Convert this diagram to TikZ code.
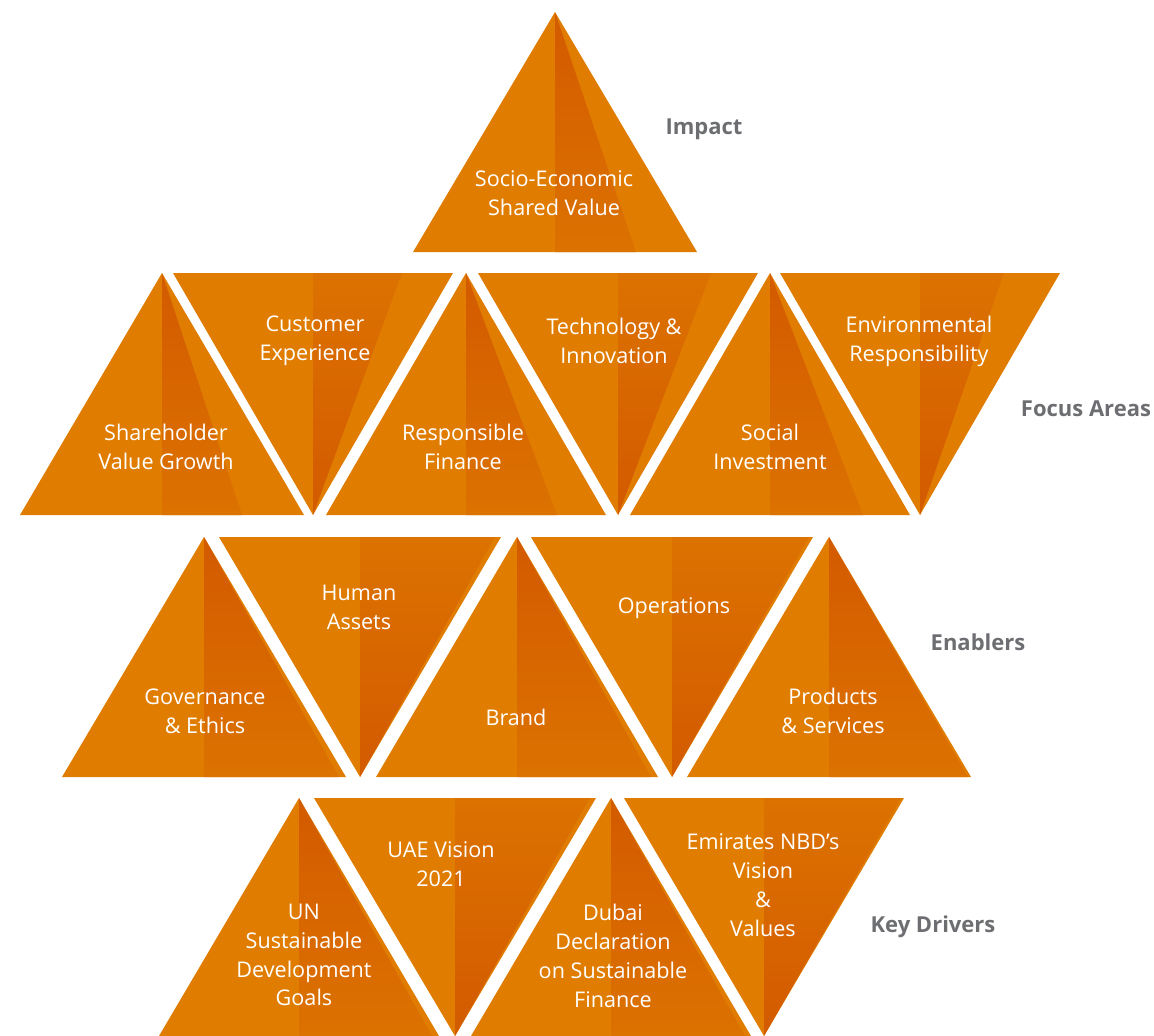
\documentclass[tikz,border=0pt]{standalone}
\usepackage{fontspec}
\setmainfont{Open Sans}
\definecolor{tribase}{HTML}{E07D00}
\definecolor{wedgedark}{HTML}{D35A00}
\definecolor{wedgelight}{HTML}{DC7200}
\definecolor{labelgray}{HTML}{6D6E71}
\newcommand\UpTri[5]{%
  \fill[tribase] (#1,#2) -- (#1-#3,#4) -- (#1+#3,#4) -- cycle;
  \shade[top color=wedgedark, bottom color=wedgelight] (#1,#2) -- (#1,#4) -- (#1+#5,#4) -- cycle;}
\newcommand\DownTri[5]{%
  \fill[tribase] (#1,#2) -- (#1-#3,#4) -- (#1+#3,#4) -- cycle;
  \shade[top color=wedgelight, bottom color=wedgedark] (#1,#2) -- (#1,#4) -- (#1+#5,#4) -- cycle;}
\tikzset{
  tritext/.style={text=white, align=center, font=\fontsize{21.6}{28.8}\selectfont, inner sep=0pt},
  rowlabel/.style={text=labelgray, font=\fontsize{22}{26}\selectfont\bfseries, inner sep=0pt}
}
\begin{document}
\begin{tikzpicture}[x=1pt,y=-1pt]
\useasboundingbox (0,0) rectangle (1154,1036);
% Impact
\UpTri{555}{12}{142}{252}{81}
% Focus areas
\UpTri{162}{273}{142}{515}{80}
\DownTri{313}{515}{140}{273}{89}
\UpTri{466}{273}{140}{515}{91}
\DownTri{618}{515}{140}{273}{93}
\UpTri{770}{273}{140}{515}{93}
\DownTri{920}{515}{140}{273}{84}
% Enablers
\UpTri{204}{537}{142}{777}{135}
\DownTri{360}{777}{141}{537}{135}
\UpTri{517}{537}{141}{777}{134}
\DownTri{672}{777}{141}{537}{137}
\UpTri{829}{537}{142}{777}{139}
% Key drivers
\UpTri{299}{798}{140}{1036}{133}
\DownTri{455}{1036}{141}{798}{135}
\UpTri{611}{798}{140}{1036}{134}
\DownTri{764}{1036}{140}{798}{137}
% texts
\node[tritext] (sev) at (554,193) {Socio-Economic\\Shared Value};
\node[tritext] (svg) at (166,447) {Shareholder\\Value Growth};
\node[tritext] (cex) at (315,341) {Customer\\Experience};
\node[tritext] (rfi) at (463,447) {Responsible\\Finance};
\node[tritext] (tin) at (614,341) {Technology \&\\Innovation};
\node[tritext] (sin) at (770,447) {Social\\Investment};
\node[tritext] (env) at (919,341) {Environmental\\Responsibility};
\node[tritext] (gov) at (205,711) {Governance\\\& Ethics};
\node[tritext] (has) at (359,607) {Human\\Assets};
\node[tritext] (brd) at (516,717) {Brand};
\node[tritext] (ops) at (674,608) {Operations};
\node[tritext] (pns) at (833,711) {Products\\\& Services};
\node[tritext] (sdg) at (304,955) {UN\\Sustainable\\Development\\Goals};
\node[tritext] (uae) at (441,864) {UAE Vision\\2021};
\node[tritext] (dds) at (613,956) {Dubai\\Declaration\\on Sustainable\\Finance};
\node[tritext] (enb) at (763,885) {Emirates NBD’s\\Vision\\\&\\Values};
% row labels
\node[rowlabel] (limp) at (704,129) {Impact};
\node[rowlabel] (lfoc) at (1086,409) {Focus Areas};
\node[rowlabel] (lena) at (978,642) {Enablers};
\node[rowlabel] (lkey) at (933,927) {Key Drivers};
\end{tikzpicture}
\end{document}
